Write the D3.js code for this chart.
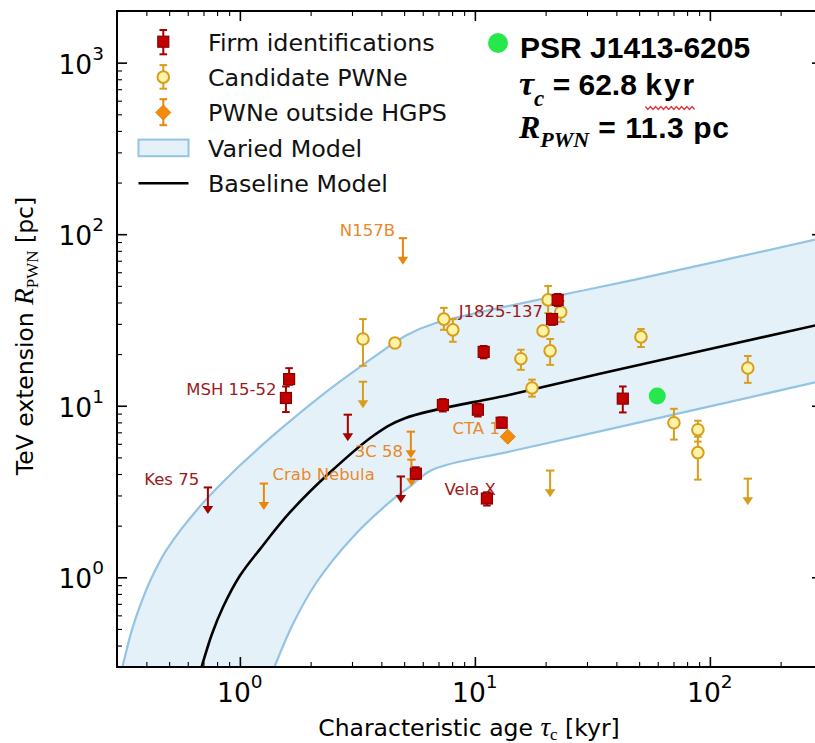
<!DOCTYPE html>
<html><head><meta charset="utf-8">
<script src="https://cdn.jsdelivr.net/npm/d3@7"></script>
<style>body{margin:0;background:#fff}svg{display:block}</style>
</head><body><svg id="c" width="815" height="743"></svg>
<script>
// ---------------- data ----------------
const xDomain = [0.3, 300];
const yDomain = [0.3, 2000];
const majorTicksX = [1, 10, 100];
const majorTicksY = [1, 10, 100, 1000];

// Firm identifications (square, with error bars)
const firmTau = [1.57, 1.62, 7.31, 10.3, 13.0, 10.9, 22.5, 21.3, 42.6, 5.61, 11.25];
const firmR   = [11.1, 14.3, 10.1, 9.48, 7.96, 20.6, 41.4, 32.0, 11.0, 4.02, 2.88];
const firmLo  = [9.19, 13.25, 9.26, 8.66, 7.48, 18.9, 38.1, 29.6, 9.14, 3.75, 2.62];
const firmHi  = [12.95, 16.56, 10.94, 10.27, 8.55, 22.3, 44.8, 33.8, 12.95, 4.38, 3.13];
// Firm identifications, upper limits
const firmUlTau = [0.731, 2.88, 4.84];
const firmUlR   = [3.34, 8.87, 3.87];

// Candidate PWNe (circles)
const candTau = [3.34, 4.57, 7.38, 8.06, 20.5, 23.2, 19.5, 20.9, 15.7, 17.5, 50.9, 145, 70.3, 88.9, 88.9];
const candR   = [24.5, 23.2, 32.0, 27.7, 41.4, 35.2, 27.3, 20.9, 18.8, 12.7, 25.2, 16.6, 7.96, 7.25, 5.33];
const candLo  = [17.1, 23.2, 27.7, 23.6, 34.7, 30.8, 27.3, 17.3, 16.2, 11.3, 22.0, 13.6, 6.35, 6.18, 3.71];
const candHi  = [32.0, 23.2, 37.2, 32.0, 49.9, 40.8, 27.3, 24.5, 21.2, 14.2, 28.0, 19.5, 9.6, 8.18, 6.6];
const candUlTau = [3.34, 20.9, 145];
const candUlR   = [13.8, 4.19, 3.76];

// PWNe outside HGPS
const outTau = [13.8];
const outR   = [6.6];
const outUlTau = [4.94, 1.265, 5.34, 5.37];
const outUlR   = [94.8, 3.52, 7.06, 4.85];

// PSR J1413-6205
const targetTau = [59.7];
const targetR   = [11.4];

// Models
const upperTau = [0.3115, 0.324, 0.347, 0.3754, 0.422, 0.489, 0.676, 1.0, 1.48, 2.19, 3.34, 5.14, 6.63, 34.0, 47.0, 300];
const upperR   = [0.273, 0.343, 0.492, 0.678, 1.0, 1.455, 2.587, 4.48, 7.25, 11.28, 17.31, 25.87, 29.97, 49.2, 54.0, 94.8];
const lowerTau = [1.342, 1.409, 1.664, 2.127, 3.027, 4.35, 5.29, 6.63, 14.1, 34.0, 300];
const lowerR   = [0.255, 0.304, 0.519, 0.942, 1.72, 2.75, 3.38, 4.25, 5.41, 7.09, 13.97];
const baseTau  = [0.669, 0.689, 0.760, 0.847, 1.0, 1.216, 1.632, 2.415, 3.75, 5.04, 14.1, 34.0, 300];
const baseR    = [0.266, 0.304, 0.466, 0.669, 1.02, 1.455, 2.388, 4.08, 6.78, 8.46, 11.6, 15.35, 30.0];

// Source labels
const labelNames = ["N157B", "MSH 15-52", "Kes 75", "Crab Nebula", "3C 58", "CTA 1", "Vela X", "J1825-137"];
const labelTau   = [4.57, 1.432, 0.671, 3.75, 4.95, 12.78, 12.29, 19.5];
const labelR     = [97.3, 11.59, 3.43, 3.68, 5.03, 6.88, 3.0, 33.0];
const labelGroup = ["out", "firm", "firm", "out", "out", "out", "firm", "firm"];

const legendLabels = ["Firm identifications", "Candidate PWNe", "PWNe outside HGPS", "Varied Model", "Baseline Model"];

// ---------------- style ----------------
const C = {
  firmFill: "#c20000", firmEdge: "#8a0000", firmErr: "#a30000", firmLabel: "#9e1a1a",
  candFill: "#fff3a6", candEdge: "#d79e1c",
  outFill: "#f28a0c", outEdge: "#e67e00", outErr: "#e8860e", outLabel: "#e8892b",
  bandFill: "#e5f1f9", bandEdge: "#93c4e4", target: "#27e84b"
};
const ulFactor = 0.7;

const svg = d3.select("#c");
const M = {l: 117, r: 822, t: 11, b: 667};
const x = d3.scaleLog().domain(xDomain).range([M.l, M.r]);
const y = d3.scaleLog().domain(yDomain).range([M.b, M.t]);

svg.append("defs").append("clipPath").attr("id", "clip")
  .append("rect").attr("x", M.l).attr("y", M.t).attr("width", M.r - M.l).attr("height", M.b - M.t);

const plot = svg.append("g").attr("clip-path", "url(#clip)");

const zip = (a, b) => a.map((v, i) => [v, b[i]]);
const crv = d3.curveCatmullRom.alpha(0.5);
const line = d3.line().x(d => x(d[0])).y(d => y(d[1])).curve(crv);
const areaBelow = d3.area().x(d => x(d[0])).y1(d => y(d[1])).y0(M.b + 30).curve(crv);

const up = zip(upperTau, upperR), lo = zip(lowerTau, lowerR), base = zip(baseTau, baseR);
plot.append("path").attr("d", areaBelow(up)).attr("fill", C.bandFill);
plot.append("path").attr("d", areaBelow(lo)).attr("fill", "#fff");
plot.append("path").attr("d", line(up)).attr("fill", "none").attr("stroke", C.bandEdge).attr("stroke-width", 2.2);
plot.append("path").attr("d", line(lo)).attr("fill", "none").attr("stroke", C.bandEdge).attr("stroke-width", 2.2);
plot.append("path").attr("d", line(base)).attr("fill", "none").attr("stroke", "#000").attr("stroke-width", 2.6);

// ---------------- marker helpers ----------------
const capW = 3.8;
function errBar(g, px, yHi, yLo, color) {
  g.append("line").attr("x1", px).attr("x2", px).attr("y1", yHi).attr("y2", yLo).attr("stroke", color).attr("stroke-width", 2);
  [yHi, yLo].forEach(v => g.append("line").attr("x1", px - capW).attr("x2", px + capW).attr("y1", v).attr("y2", v).attr("stroke", color).attr("stroke-width", 2));
}
function square(g, px, py) {
  g.append("rect").attr("x", px - 5.5).attr("y", py - 5.5).attr("width", 11).attr("height", 11)
    .attr("fill", C.firmFill).attr("stroke", C.firmEdge).attr("stroke-width", 1.2);
}
function circle(g, px, py) {
  g.append("circle").attr("cx", px).attr("cy", py).attr("r", 5.8)
    .attr("fill", C.candFill).attr("stroke", C.candEdge).attr("stroke-width", 2);
}
function diamond(g, px, py) {
  const s = 7.5;
  g.append("path").attr("d", `M${px},${py - s}L${px + s},${py}L${px},${py + s}L${px - s},${py}Z`)
    .attr("fill", C.outFill).attr("stroke", C.outEdge).attr("stroke-width", 1);
}
function upperLimit(g, tau, R, color) {
  const px = x(tau), y0 = y(R), y1 = y(R * ulFactor);
  g.append("line").attr("x1", px - 4.2).attr("x2", px + 4.2).attr("y1", y0).attr("y2", y0).attr("stroke", color).attr("stroke-width", 2);
  g.append("line").attr("x1", px).attr("x2", px).attr("y1", y0).attr("y2", y1 - 7).attr("stroke", color).attr("stroke-width", 2);
  g.append("path").attr("d", `M${px - 5.3},${y1 - 8}L${px + 5.3},${y1 - 8}L${px},${y1}Z`).attr("fill", color);
}

const pts = plot.append("g");
firmUlTau.forEach((t, i) => upperLimit(pts, t, firmUlR[i], C.firmErr));
outUlTau.forEach((t, i) => upperLimit(pts, t, outUlR[i], C.outErr));
candUlTau.forEach((t, i) => upperLimit(pts, t, candUlR[i], C.candEdge));
candTau.forEach((t, i) => {
  if (candHi[i] !== candLo[i]) errBar(pts, x(t), y(candHi[i]), y(candLo[i]), C.candEdge);
  circle(pts, x(t), y(candR[i]));
});
firmTau.forEach((t, i) => {
  errBar(pts, x(t), y(firmHi[i]), y(firmLo[i]), C.firmErr);
  square(pts, x(t), y(firmR[i]));
});
outTau.forEach((t, i) => diamond(pts, x(t), y(outR[i])));
targetTau.forEach((t, i) => pts.append("circle").attr("cx", x(t)).attr("cy", y(targetR[i])).attr("r", 8.5).attr("fill", C.target));

labelNames.forEach((n, i) => {
  svg.append("text").attr("x", x(labelTau[i])).attr("y", y(labelR[i])).attr("text-anchor", "end")
    .attr("font-family", "DejaVu Sans").attr("font-size", 16.5)
    .attr("fill", labelGroup[i] === "firm" ? C.firmLabel : C.outLabel).text(n);
});

// ---------------- axes ----------------
function minorOf(domain, majors) {
  const out = [];
  for (let e = Math.floor(Math.log10(domain[0])); e <= Math.ceil(Math.log10(domain[1])); e++)
    for (let k = 1; k <= 9; k++) {
      const v = k * Math.pow(10, e);
      if (v >= domain[0] && v <= domain[1] && !majors.includes(v)) out.push(v);
    }
  return out;
}
const minorX = minorOf(xDomain, majorTicksX), minorY = minorOf(yDomain, majorTicksY);

function axisGroup(axisFn, scale, transform, majors, minors) {
  const gMaj = svg.append("g").attr("transform", transform)
    .call(axisFn(scale).tickValues(majors).tickSize(-10).tickFormat(""));
  const gMin = svg.append("g").attr("transform", transform)
    .call(axisFn(scale).tickValues(minors).tickSize(-5).tickFormat(""));
  [gMaj, gMin].forEach(g => { g.select(".domain").remove(); });
  gMaj.selectAll(".tick line").attr("stroke", "#000").attr("stroke-width", 1.6);
  gMin.selectAll(".tick line").attr("stroke", "#000").attr("stroke-width", 1.1);
  return gMaj;
}
axisGroup(d3.axisBottom, x, `translate(0,${M.b})`, majorTicksX, minorX);
axisGroup(d3.axisTop, x, `translate(0,${M.t})`, majorTicksX, minorX);
axisGroup(d3.axisLeft, y, `translate(${M.l},0)`, majorTicksY, minorY);
axisGroup(d3.axisRight, y, `translate(${M.r},0)`, majorTicksY, minorY);

svg.append("rect").attr("x", M.l).attr("y", M.t).attr("width", M.r - M.l).attr("height", M.b - M.t)
  .attr("fill", "none").attr("stroke", "#000").attr("stroke-width", 2);

function powLabel(sel, v) {
  sel.append("tspan").text("10");
  sel.append("tspan").attr("font-size", 18.5).attr("dy", -14).text(Math.round(Math.log10(v)));
}
majorTicksX.forEach(v => {
  const t = svg.append("text").attr("x", x(v)).attr("y", 702).attr("text-anchor", "middle")
    .attr("font-family", "DejaVu Sans").attr("font-size", 26.5);
  powLabel(t, v);
});
majorTicksY.forEach(v => {
  const t = svg.append("text").attr("x", 104).attr("y", y(v) + 11).attr("text-anchor", "end")
    .attr("font-family", "DejaVu Sans").attr("font-size", 26.5);
  powLabel(t, v);
});

const xl = svg.append("text").attr("x", 469).attr("y", 736).attr("text-anchor", "middle")
  .attr("font-family", "DejaVu Sans").attr("font-size", 23.5);
xl.append("tspan").text("Characteristic age ");
xl.append("tspan").attr("font-family", "Liberation Serif").attr("font-style", "italic").attr("font-size", 27).text("τ");
xl.append("tspan").attr("font-family", "Liberation Serif").attr("font-size", 17).attr("dy", 4).text("c");
xl.append("tspan").attr("dy", -4).text(" [kyr]");

const yl = svg.append("text").attr("transform", "translate(33,336) rotate(-90)").attr("text-anchor", "middle")
  .attr("font-family", "DejaVu Sans").attr("font-size", 23.5);
yl.append("tspan").text("TeV extension ");
yl.append("tspan").attr("font-family", "Liberation Serif").attr("font-style", "italic").attr("font-size", 27).text("R");
yl.append("tspan").attr("font-family", "Liberation Serif").attr("font-size", 17).attr("dy", 5).text("PWN");
yl.append("tspan").attr("dy", -5).text(" [pc]");

// ---------------- legend ----------------
const lg = svg.append("g");
const lx = 163.3, ly0 = 41.7, dyL = 35.4;
legendLabels.forEach((s, i) => {
  const cy = ly0 + i * dyL;
  if (i === 0) { errBar(lg, lx, cy - 11.7, cy + 12.6, C.firmErr); square(lg, lx, cy); }
  if (i === 1) { errBar(lg, lx, cy - 12, cy + 11.6, C.candEdge); circle(lg, lx, cy); }
  if (i === 2) { errBar(lg, lx, cy - 13.3, cy + 12.7, C.outErr); diamond(lg, lx, cy); }
  if (i === 3) lg.append("rect").attr("x", 138.5).attr("y", cy - 8.3).attr("width", 50).attr("height", 16.6)
    .attr("fill", C.bandFill).attr("stroke", C.bandEdge).attr("stroke-width", 2);
  if (i === 4) lg.append("line").attr("x1", 138.5).attr("x2", 188.5).attr("y1", cy).attr("y2", cy)
    .attr("stroke", "#000").attr("stroke-width", 2.6);
  lg.append("text").attr("x", 208).attr("y", cy + 8.8).attr("font-family", "DejaVu Sans")
    .attr("font-size", 23.8).attr("fill", "#111").text(s);
});

// ---------------- annotation ----------------
svg.append("circle").attr("cx", 498).attr("cy", 43).attr("r", 10).attr("fill", C.target);
svg.append("text").attr("x", 520).attr("y", 58).attr("font-family", "Liberation Sans")
  .attr("font-weight", "bold").attr("font-size", 30).text("PSR J1413-6205");
const a2 = svg.append("text").attr("x", 519).attr("y", 95).attr("font-family", "Liberation Sans")
  .attr("font-weight", "bold").attr("font-size", 30);
a2.append("tspan").attr("font-family", "Liberation Serif").attr("font-style", "italic").attr("font-size", 34).text("τ");
a2.append("tspan").attr("font-family", "Liberation Serif").attr("font-style", "italic").attr("font-size", 23).attr("dy", 11).text("c");
a2.append("tspan").attr("dy", -11).text(" = 62.8 ");
const kyr = a2.append("tspan").attr("letter-spacing", 2).text("kyr");
const a3 = svg.append("text").attr("x", 519).attr("y", 138).attr("font-family", "Liberation Sans")
  .attr("font-weight", "bold").attr("font-size", 30);
a3.append("tspan").attr("font-family", "Liberation Serif").attr("font-style", "italic").attr("font-size", 32).text("R");
a3.append("tspan").attr("font-family", "Liberation Serif").attr("font-style", "italic").attr("font-size", 22).attr("dy", 9).text("PWN");
a3.append("tspan").attr("dy", -9).attr("letter-spacing", 0.6).text(" = 11.3 pc");

const kb = kyr.node().getBBox();
let sq = `M${kb.x},106.5`;
for (let xx = kb.x, k = 0; xx < kb.x + kb.width - 2; xx += 2.6, k++) sq += `L${xx + 2.6},${k % 2 ? 106.5 : 109.5}`;
svg.append("path").attr("d", sq).attr("fill", "none").attr("stroke", "#e0393e").attr("stroke-width", 1.3);
</script></body></html>
